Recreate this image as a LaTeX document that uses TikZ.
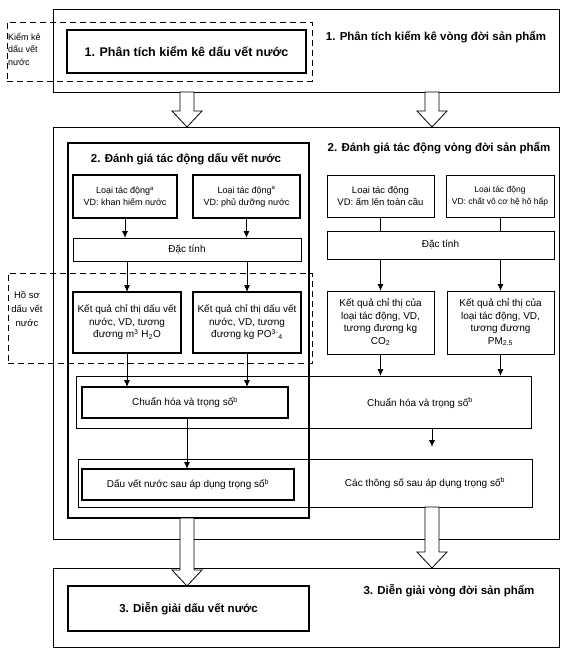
\documentclass[tikz,border=0pt]{standalone}
\usepackage{fontspec}
\setmainfont{Liberation Sans}
\usetikzlibrary{arrows.meta,calc}

% hollow block arrow between two points
\newcommand{\bigarrow}[2]{%
  \draw[line width=0.8pt, fill=white] let \p1=(#1), \p2=(#2) in
    (\x1-7pt,\y1) -- (\x1-7pt,\y2+16pt) -- (\x1-15pt,\y2+16pt) -- (\x1,\y2)
    -- (\x1+15pt,\y2+16pt) -- (\x1+7pt,\y2+16pt) -- (\x1+7pt,\y1) -- cycle;}

\begin{document}
\begin{tikzpicture}[x=1pt,y=-1pt]

		\tikzset{box/.style = {draw, line width=0.8pt, inner sep=0pt, outer sep=0pt, align=center, font=\fontsize{10}{12.5}\selectfont}}
		\tikzset{sz/.style 2 args = {minimum width=#1pt, minimum height=#2pt}}
		\tikzset{wfbox/.style = {box, line width=2pt}}
		\tikzset{typebox/.style = {box, line width=1.4pt, font=\fontsize{9}{12}\selectfont}}
		\tikzset{dashbox/.style = {draw, line width=0.9pt, dash pattern=on 6pt off 4pt, inner sep=0pt, outer sep=0pt}}
		\tikzset{title/.style = {inner sep=0pt, font=\fontsize{11.5}{13}\selectfont\bfseries}}
		\tikzset{txt/.style = {inner sep=0pt, align=center, font=\fontsize{10}{12.5}\selectfont}}
		\tikzset{note/.style = {inner sep=0pt, font=\fontsize{9}{12.5}\selectfont}}
		\tikzset{edge/.style = {->,> = {Latex[length=7pt,width=6pt]}, line width=0.9pt}}

		\useasboundingbox (0,0) rectangle (576,649);

		% stage frames
		\node[box, sz={506}{83}] (lcainv) at (306,50.5) {};
		\node[box, sz={506}{412}] (lcaimp) at (306,333) {};
		\node[box, sz={506}{79}] (lcaint) at (306,607.5) {};
		\node[title] (lcainvt) at (436,37) {1. Phân tích kiểm kê vòng đời sản phẩm};
		\node[title] (lcaimpt) at (439,148) {2. Đánh giá tác động vòng đời sản phẩm};
		\node[title] (lcaintt) at (449,591) {3. Diễn giải vòng đời sản phẩm};

		% dashed groups
		\node[dashbox, sz={305}{59}] (wfinvd) at (159.5,51.5) {};
		\node[note, anchor=north west, align=left] (wfinvdt) at (8,33) {Kiểm kê\\dấu vết\\nước};
		\node[dashbox, sz={304}{90}] (wfprof) at (160,318) {};
		\node[note, align=center, font=\fontsize{9.5}{14}\selectfont] (wfproft) at (27,309) {Hồ sơ\\dấu vết\\nước};

		% water footprint column
		\node[wfbox, sz={239}{43}, font=\fontsize{12.5}{14}\selectfont\bfseries] (wfinv) at (186.5,51.5) {1. Phân tích kiểm kê dấu vết nước};
		\node[wfbox, sz={241}{375}] (wfimp) at (188.5,330.5) {};
		\node[title] (wfimpt) at (186,159) {2. Đánh giá tác động dấu vết nước};
		\node[typebox, sz={104}{43}] (type1) at (125,196.5) {Loại tác động\textsuperscript{a}\\VD: khan hiếm nước};
		\node[typebox, sz={107}{43}] (type2) at (246.5,196.5) {Loại tác động\textsuperscript{a}\\VD: phủ dưỡng nước};
		\node[box, sz={228}{23}] (charwf) at (187,249.5) {Đặc tính};
		\node[wfbox, sz={108}{61}] (res1) at (127,322.5) {Kết quả chỉ thị dấu vết\\nước, VD, tương\\đương m\textsuperscript{3} H\textsubscript{2}O};
		\node[wfbox, sz={108}{61}] (res2) at (247,322.5) {Kết quả chỉ thị dấu vết\\nước, VD, tương\\đương kg PO\textsuperscript{3-}\textsubscript{4}};

		% life cycle column
		\node[box, sz={107}{42}, font=\fontsize{9.5}{12}\selectfont] (type3) at (380.5,196) {Loại tác động\\VD: ấm lên toàn cầu};
		\node[box, sz={108}{42}, font=\fontsize{8.5}{12}\selectfont] (type4) at (500,196) {Loại tác động\\VD: chất vô cơ hệ hô hấp};
		\node[box, sz={227}{28}] (charlca) at (440.5,245) {Đặc tính};
		\node[box, sz={107}{63}] (res3) at (380.5,322.5) {Kết quả chỉ thị của\\loại tác động, VD,\\tương đương kg\\CO\textsubscript{2}};
		\node[box, sz={107}{63}] (res4) at (500.5,322.5) {Kết quả chỉ thị của\\loại tác động, VD,\\tương đương\\PM\textsubscript{2.5}};

		% normalisation and weighting
		\node[box, sz={455}{52}] (normlca) at (303.5,402) {};
		\node[txt] (normlcat) at (420,403) {Chuẩn hóa và trọng số\textsuperscript{b}};
		\node[wfbox, sz={206}{31}] (normwf) at (185,402.5) {Chuẩn hóa và trọng số\textsuperscript{b}};
		\node[box, sz={454}{48}] (weightlca) at (305,483) {};
		\node[txt] (weightlcat) at (425,483) {Các thông số sau áp dụng trọng số\textsuperscript{b}};
		\node[wfbox, sz={212}{31}] (weightwf) at (188,484.5) {Dấu vết nước sau áp dụng trọng số\textsuperscript{b}};

		% interpretation
		\node[wfbox, sz={241}{45}, font=\fontsize{11.5}{13}\selectfont\bfseries] (wfint) at (188.5,608.5) {3. Diễn giải dấu vết nước};

		% block arrow axes
		\coordinate (wfx) at (187,0);
		\coordinate (lcax) at (432,0);

		%edges
		\draw[edge] (type1.south) -- (type1.south |- charwf.north);
		\draw[edge] (type2.south) -- (type2.south |- charwf.north);
		\draw[edge] (res1.north |- charwf.south) -- (res1.north);
		\draw[edge] (res2.north |- charwf.south) -- (res2.north);
		\draw[edge] (res1.south) -- (res1.south |- normwf.north);
		\draw[edge] (res2.south) -- (res2.south |- normwf.north);
		\draw[edge] (normwf.south -| wfx) -- (weightwf.north -| wfx);

		\draw[line width=0.9pt] (type3.south) -- (type3.south |- charlca.north); %no tip
		\draw[line width=0.9pt] (type4.south) -- (type4.south |- charlca.north);
		\draw[edge] (res3.north |- charlca.south) -- (res3.north);
		\draw[edge] (res4.north |- charlca.south) -- (res4.north);
		\draw[edge] (res3.south) -- (res3.south |- normlca.north);
		\draw[edge] (res4.south) -- (res4.south |- normlca.north);
		\draw[edge, shorten >=12pt] (normlca.south -| lcax) -- (weightlca.north -| lcax);

		% stage arrows
		\bigarrow{lcainv.south -| wfx}{lcaimp.north -| wfx}
		\bigarrow{lcainv.south -| lcax}{lcaimp.north -| lcax}
		\bigarrow{wfimp.south -| wfx}{wfint.north -| wfx}
		\bigarrow{weightlca.south -| lcax}{lcaint.north -| lcax}

\end{tikzpicture}
\end{document}
